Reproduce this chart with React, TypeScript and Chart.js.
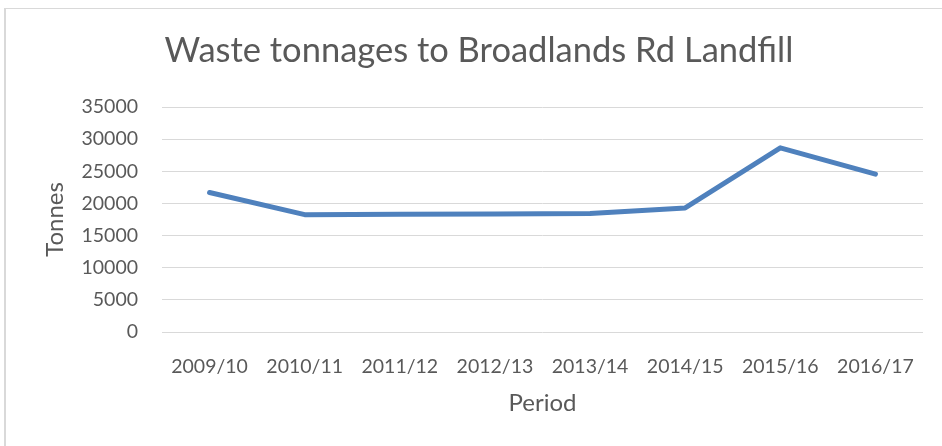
import React, { useEffect, useRef } from "react";
import { Chart, registerables } from "chart.js";

Chart.register(...registerables);

const categories = ["2009/10", "2010/11", "2011/12", "2012/13", "2013/14", "2014/15", "2015/16", "2016/17"];
const tonnes = [21700, 18250, 18300, 18350, 18450, 19300, 28650, 24550];
const yTicks = [0, 5000, 10000, 15000, 20000, 25000, 30000, 35000];

const TEXT = "#595959";
const FONT = "Lato, 'Open Sans', sans-serif";

const borderPlugin = {
  id: "frameBorder",
  beforeDraw(chart: any) {
    const { ctx, width, height } = chart;
    ctx.save();
    ctx.fillStyle = "#d9d9d9";
    ctx.fillRect(4, 8, width - 4, 1);
    ctx.fillRect(4, 8, 2, height - 8);
    ctx.restore();
  },
};

export default function App() {
  const ref = useRef<HTMLCanvasElement | null>(null);
  useEffect(() => {
    if (!ref.current) return;
    const chart = new Chart(ref.current, {
      type: "line",
      data: {
        labels: categories,
        datasets: [
          {
            label: "Tonnes",
            data: tonnes,
            borderColor: "#4f81bd",
            backgroundColor: "#4f81bd",
            borderWidth: 5,
            pointRadius: 0,
            tension: 0,
            borderCapStyle: "round",
            borderJoinStyle: "round",
          },
        ],
      },
      options: {
        responsive: false,
        animation: false,
        layout: { padding: { left: 35, right: 19, top: 0, bottom: 0 } },
        plugins: {
          legend: { display: false },
          tooltip: { enabled: false },
          title: {
            display: true,
            text: "Waste tonnages to Broadlands Rd Landfill",
            color: TEXT,
            font: { family: FONT, size: 34.5, weight: "normal", lineHeight: 1.2 },
            padding: { top: 30, bottom: 35.6 },
          },
        },
        scales: {
          x: {
            type: "category",
            offset: true,
            grid: { display: false, drawTicks: false },
            border: { display: false },
            ticks: { color: TEXT, font: { family: FONT, size: 19.5 }, padding: 23, maxRotation: 0, autoSkip: false },
            title: {
              display: true,
              text: "Period",
              color: TEXT,
              font: { family: FONT, size: 24, lineHeight: 1.2 },
              padding: { top: 0, bottom: 28.6 },
            },
            afterFit(scale: any) {
              scale.height = 114;
            },
          },
          y: {
            min: 0,
            max: 35000,
            afterBuildTicks(scale: any) {
              scale.ticks = yTicks.map((v) => ({ value: v }));
            },
            grid: { color: "#d9d9d9", lineWidth: 1, drawTicks: false },
            border: { display: false },
            ticks: { color: TEXT, font: { family: FONT, size: 19.5 }, padding: 24, callback: (v: any) => String(v) },
            title: {
              display: true,
              text: "Tonnes",
              color: TEXT,
              font: { family: FONT, size: 24, lineHeight: 1.2 },
              padding: { top: 5.6, bottom: 0 },
            },
            afterFit(scale: any) {
              scale.width = 127;
            },
          },
        },
      },
      plugins: [borderPlugin],
    } as any);
    return () => chart.destroy();
  }, []);
  return (
    <div style={{ position: "absolute", left: 0, top: 0, width: 942, height: 446, background: "#fff" }}>
      <canvas ref={ref} width={942} height={446} style={{ display: "block" }} />
    </div>
  );
}
